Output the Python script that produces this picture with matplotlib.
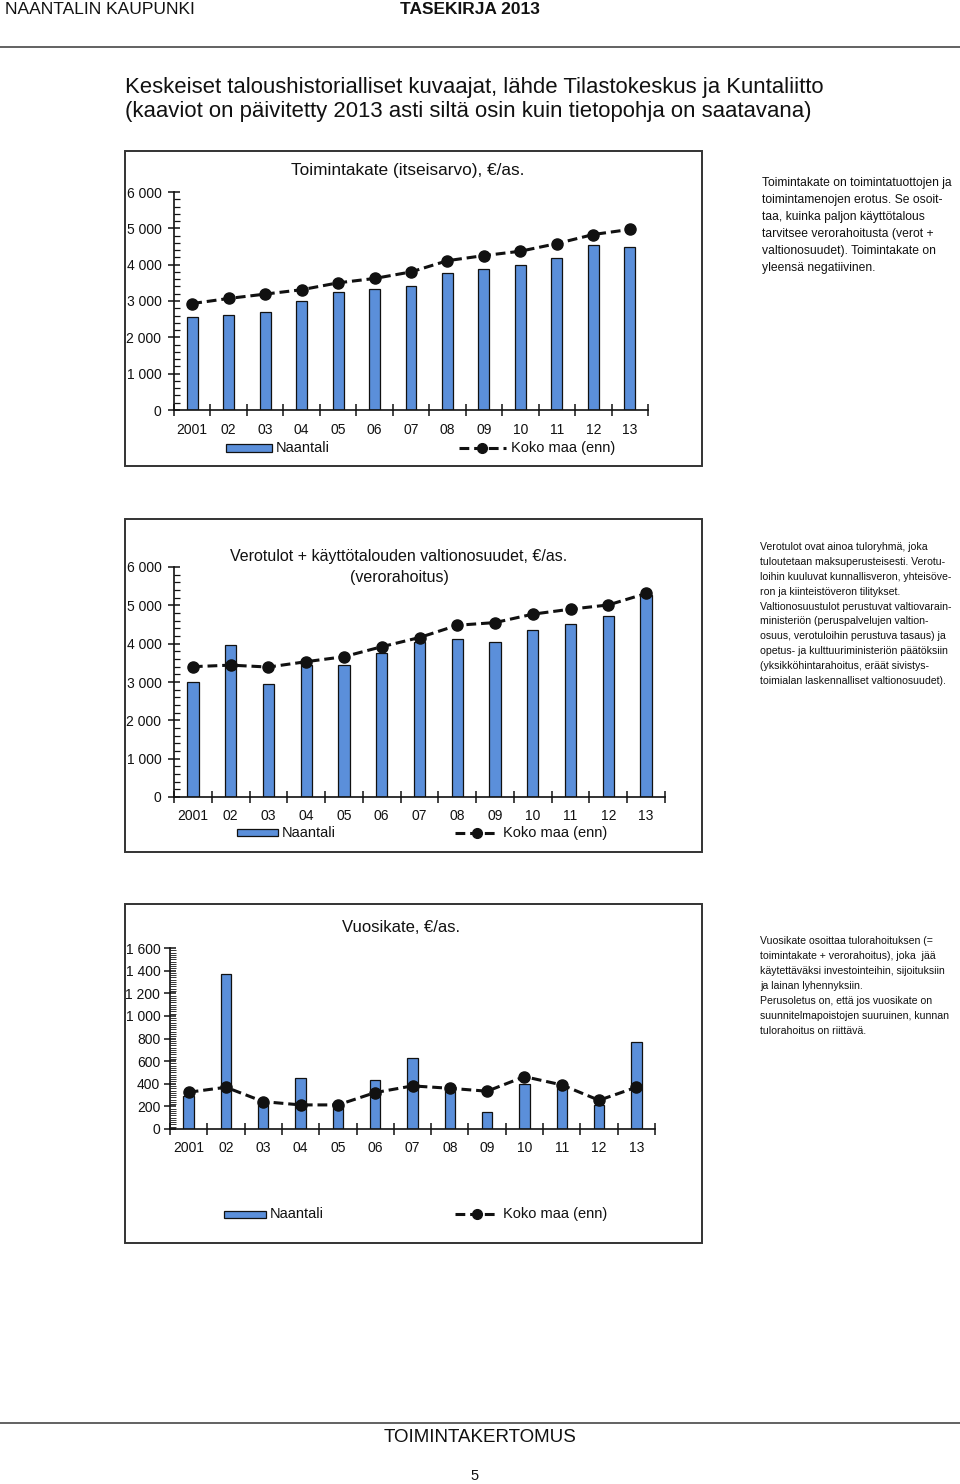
import matplotlib
matplotlib.use("Agg")
import matplotlib.pyplot as plt
from matplotlib import font_manager
from matplotlib.patches import Rectangle
from matplotlib.lines import Line2D
from matplotlib.ticker import FixedLocator, MultipleLocator, FuncFormatter
import numpy as np

# ---------------- data ----------------
years = ["2001", "02", "03", "04", "05", "06", "07", "08", "09", "10", "11", "12", "13"]

toimintakate_naantali = [2550, 2620, 2690, 3000, 3260, 3340, 3420, 3760, 3870, 3980, 4170, 4540, 4500]
toimintakate_koko_maa = [2930, 3070, 3190, 3310, 3500, 3620, 3800, 4110, 4250, 4370, 4580, 4830, 4970]

verorahoitus_naantali = [3000, 3970, 2940, 3450, 3440, 3760, 4050, 4110, 4040, 4360, 4510, 4730, 5260]
verorahoitus_koko_maa = [3400, 3440, 3390, 3530, 3660, 3920, 4160, 4480, 4550, 4770, 4900, 5010, 5310]

vuosikate_naantali = [295, 1370, 242, 455, 213, 431, 626, 365, 150, 396, 369, 210, 770]
vuosikate_koko_maa = [325, 369, 242, 213, 213, 322, 381, 360, 334, 463, 390, 254, 369]

series_labels = ["Naantali", "Koko maa (enn)"]

# ---------------- fonts ----------------
avail = {f.name for f in font_manager.fontManager.ttflist}
REG = "Liberation Sans" if "Liberation Sans" in avail else "DejaVu Sans"
NARROW = "Liberation Sans Narrow" if "Liberation Sans Narrow" in avail else REG
narrow_ok = NARROW != REG
plt.rcParams["font.family"] = [REG, "DejaVu Sans"]

W, H = 960, 1484
fig = plt.figure(figsize=(W / 100, H / 100), dpi=100)

def fx(x):
    return x / W

def fy(y):
    return 1 - y / H

BAR_COLOR = "#5B8FDA"
TXT = "#111111"

def ftext(x, y, s, size, family=None, **kw):
    fam = [family or REG, "DejaVu Sans"]
    fig.text(fx(x), fy(y), s, fontsize=size, family=fam, color=TXT, **kw)

# ---------------- header / footer ----------------
ftext(5, 10, "NAANTALIN KAUPUNKI", 15 if narrow_ok else 12.5, NARROW, va="center", ha="left")
ftext(400, 10, "TASEKIRJA 2013", 15 if narrow_ok else 12.5, NARROW, va="center", ha="left", fontweight="bold")
fig.add_artist(Line2D([0, 1], [fy(47), fy(47)], color="#555555", lw=1.3))
ftext(125, 87, "Keskeiset taloushistorialliset kuvaajat, lähde Tilastokeskus ja Kuntaliitto", 15.9, va="center", ha="left")
ftext(125, 112, "(kaaviot on päivitetty 2013 asti siltä osin kuin tietopohja on saatavana)", 15.9, va="center", ha="left")

fig.add_artist(Line2D([0, 1], [fy(1423), fy(1423)], color="#555555", lw=1.3))
ftext(480, 1437, "TOIMINTAKERTOMUS", 13.5, va="center", ha="center")
ftext(475, 1476, "5", 10.5, va="center", ha="center")

# ---------------- chart helper ----------------
def thousands(v, pos):
    v = int(round(v))
    return f"{v:,}".replace(",", " ")

def chart(box, axrect, bars, line, ymax, ymajor, yminor, title_lines, title_y,
          title_x, title_size, bar_w, legend_y, leg_patch, leg_line, ypad=5, minor_w=0.9):
    bx0, by0, bx1, by1 = box
    fig.add_artist(Rectangle((fx(bx0), fy(by1)), fx(bx1) - fx(bx0), fy(by0) - fy(by1),
                             fill=False, edgecolor="#333333", lw=1.4))
    l, r, t, b = axrect
    ax = fig.add_axes([fx(l), fy(b), fx(r) - fx(l), fy(t) - fy(b)])
    n = len(years)
    x = np.arange(n)
    ax.bar(x, bars, width=bar_w, color=BAR_COLOR, edgecolor="#111111", linewidth=0.9, zorder=2)
    ax.plot(x, line, linestyle=(0, (3.2, 1.6)), color="#111111", lw=2.2, marker="o",
            markersize=8, markerfacecolor="#111111", zorder=3)
    ax.set_xlim(-0.5, n - 0.5)
    ax.set_ylim(0, ymax)
    for s in ["top", "right"]:
        ax.spines[s].set_visible(False)
    for s in ["left", "bottom"]:
        ax.spines[s].set_linewidth(1.2)
        ax.spines[s].set_color("#111111")
    ax.patch.set_alpha(0)
    ax.yaxis.set_major_locator(MultipleLocator(ymajor))
    ax.yaxis.set_minor_locator(MultipleLocator(yminor))
    ax.yaxis.set_major_formatter(FuncFormatter(thousands))
    ax.tick_params(axis="y", which="major", direction="inout", length=8, width=1.1,
                   labelsize=10, pad=ypad, colors="#111111")
    ax.tick_params(axis="y", which="minor", direction="in", length=4, width=minor_w, colors="#111111")
    ax.xaxis.set_major_locator(FixedLocator(x))
    ax.set_xticklabels(years)
    ax.xaxis.set_minor_locator(FixedLocator(np.arange(n + 1) - 0.5))
    ax.tick_params(axis="x", which="major", length=0, labelsize=10, pad=9, colors="#111111")
    ax.tick_params(axis="x", which="minor", direction="inout", length=8, width=1.1, colors="#111111")
    for i, tl in enumerate(title_lines):
        ftext(title_x, title_y[i], tl, title_size, NARROW if narrow_ok else REG, ha="center", va="center")
    px0, px1 = leg_patch
    fig.add_artist(Rectangle((fx(px0), fy(legend_y + 3.5)), fx(px1) - fx(px0), 7 / H,
                             facecolor=BAR_COLOR, edgecolor="#111111", lw=0.9))
    ftext(px1 + 4, legend_y, series_labels[0], 10.5, ha="left", va="center")
    lx0, lx1 = leg_line
    fig.add_artist(Line2D([fx(lx0), fx(lx1)], [fy(legend_y), fy(legend_y)],
                          linestyle=(0, (3.2, 1.6)), color="#111111", lw=2.2))
    fig.add_artist(Line2D([fx((lx0 + lx1) / 2)], [fy(legend_y)], marker="o", markersize=7,
                          color="#111111", lw=0))
    ftext(lx1 + 5, legend_y, series_labels[1], 10.5, ha="left", va="center")
    return ax

# Chart 1
chart(box=(125, 151, 702, 466), axrect=(174, 648, 192, 410),
      bars=toimintakate_naantali, line=toimintakate_koko_maa, ymax=6000, ymajor=1000, yminor=200,
      title_lines=["Toimintakate (itseisarvo), €/as."], title_y=[171], title_x=408, title_size=12.4,
      bar_w=0.3, legend_y=448, leg_patch=(226, 272), leg_line=(459, 506))

# Chart 2
chart(box=(125, 519, 702, 852), axrect=(174, 665, 567, 797),
      bars=verorahoitus_naantali, line=verorahoitus_koko_maa, ymax=6000, ymajor=1000, yminor=200,
      title_lines=["Verotulot + käyttötalouden valtionosuudet, €/as.", "(verorahoitus)"],
      title_y=[557, 578], title_x=399, title_size=11.5,
      bar_w=0.3, legend_y=833, leg_patch=(237, 278), leg_line=(455, 498))

# Chart 3
chart(box=(125, 904, 702, 1243), axrect=(170, 655, 948, 1129),
      bars=vuosikate_naantali, line=vuosikate_koko_maa, ymax=1600, ymajor=200, yminor=20,
      title_lines=["Vuosikate, €/as."], title_y=[927], title_x=401, title_size=12,
      bar_w=0.28, legend_y=1214, leg_patch=(224, 266), leg_line=(455, 498), ypad=3, minor_w=0.6)

# ---------------- side texts ----------------
side1 = ["Toimintakate on toimintatuottojen ja",
         "toimintamenojen erotus. Se osoit-",
         "taa, kuinka paljon käyttötalous",
         "tarvitsee verorahoitusta (verot +",
         "valtionosuudet). Toimintakate on",
         "yleensä negatiivinen."]
side2 = ["Verotulot ovat ainoa tuloryhmä, joka",
         "tuloutetaan maksuperusteisesti. Verotu-",
         "loihin kuuluvat kunnallisveron, yhteisöve-",
         "ron ja kiinteistöveron tilitykset.",
         "Valtionosuustulot perustuvat valtiovarain-",
         "ministeriön (peruspalvelujen valtion-",
         "osuus, verotuloihin perustuva tasaus) ja",
         "opetus- ja kulttuuriministeriön päätöksiin",
         "(yksikköhintarahoitus, eräät sivistys-",
         "toimialan laskennalliset valtionosuudet)."]
side3 = ["Vuosikate osoittaa tulorahoituksen (=",
         "toimintakate + verorahoitus), joka  jää",
         "käytettäväksi investointeihin, sijoituksiin",
         "ja lainan lyhennyksiin.",
         "Perusoletus on, että jos vuosikate on",
         "suunnitelmapoistojen suuruinen, kunnan",
         "tulorahoitus on riittävä."]

def side(lines, x, y0, dy, size):
    for i, s in enumerate(lines):
        ftext(x, y0 + i * dy, s, size, NARROW, ha="left", va="center")

s_big = 10.3 if narrow_ok else 8.7
s_small = 8.9 if narrow_ok else 7.6
side(side1, 762, 183, 17, s_big)
side(side2, 760, 547, 14.9, s_small)
side(side3, 760, 941, 15, s_small)

fig.savefig("out.png", dpi=100)
